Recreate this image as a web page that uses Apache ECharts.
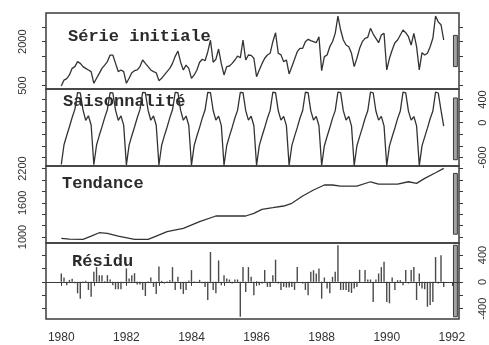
<!DOCTYPE html>
<html>
<head>
<meta charset="utf-8">
<script src="https://cdn.jsdelivr.net/npm/echarts@6/dist/echarts.min.js"></script>
<style>html,body{margin:0;padding:0;background:#fff;}#chart{width:489px;height:345px;}</style>
</head>
<body>
<div id="chart"></div>
<script>
// ---------- DATA (monthly, starting January 1980) ----------
const startYear = 1980;
const monthsPerYear = 12;

const rawSeries = [
  490, 690, 740, 865, 1090, 1150, 1320, 1260, 1150, 1090, 1035, 980,
  580, 750, 920, 1090, 1200, 1320, 1545, 1545, 1260, 980, 1035, 980,
  580, 750, 940, 1010, 1035, 1150, 1375, 1260, 1150, 1035, 980, 940,
  670, 750, 865, 980, 1090, 1260, 1500, 1680, 1300, 1035, 1200, 1090,
  750, 865, 1035, 1300, 1400, 1350, 1650, 2050, 1300, 1400, 1750, 1250,
  865, 1150, 1170, 1260, 1375, 1510, 1450, 2058, 1376, 1546, 1535, 1434,
  807, 1035, 1250, 1434, 1546, 1604, 2000, 2307, 1604, 1550, 1318, 1376,
  899, 1148, 1400, 1660, 1774, 1774, 2000, 2082, 2036, 2000, 1966, 2170,
  1011, 1489, 1546, 1830, 2000, 2286, 2876, 2399, 2058, 1887, 1830, 1604,
  1148, 1434, 1774, 2000, 2116, 2150, 2457, 2262, 2116, 1966, 2228, 2286,
  1035, 1434, 1717, 1966, 2058, 2228, 2399, 2307, 2170, 1887, 2286, 1830,
  1035, 1625, 1546, 1604, 1830, 2116, 2876, 2670, 2580, 2058
];

const seasonalSeries = [
  -720, -380, -220, -70, 90, 230, 520, 515, 220, 40, 120, -40,
  -725, -385, -222, -72, 88, 228, 520, 515, 218, 40, 118, -42,
  -728, -388, -225, -75, 86, 225, 522, 516, 215, 42, 116, -44,
  -730, -390, -228, -78, 84, 222, 522, 518, 212, 42, 115, -45,
  -732, -392, -230, -80, 82, 218, 524, 518, 210, 44, 114, -46,
  -734, -394, -232, -82, 80, 215, 524, 520, 208, 44, 112, -48,
  -735, -395, -234, -84, 78, 212, 525, 520, 205, 45, 110, -50,
  -736, -396, -236, -86, 76, 210, 525, 520, 204, 46, 110, -52,
  -737, -397, -238, -88, 74, 208, 526, 518, 203, 46, 108, -54,
  -738, -398, -240, -90, 72, 205, 526, 516, 202, 45, 108, -55,
  -739, -399, -242, -92, 70, 203, 527, 514, 200, 44, 106, -56,
  -740, -400, -244, -94, 68, 200, 528, 512, 215, -60
];

// trend read at these month indices
const trendMonthIndex = [0, 3, 8, 11, 14, 17, 21, 27, 32, 35, 39, 45, 51, 57, 63, 68, 71, 74, 78, 82, 85, 89, 93, 97, 100, 103, 109, 114, 117, 124, 128, 131, 134, 138, 141];
const trendValues     = [977, 962, 960, 1015, 1075, 1065, 1015, 960, 960, 1017, 1093, 1152, 1268, 1368, 1368, 1368, 1415, 1485, 1513, 1543, 1590, 1718, 1823, 1911, 1911, 1893, 1893, 1968, 1928, 1928, 1968, 1940, 2028, 2126, 2203];

const remainderSeries = [
  125, 65, -50, 30, 45, -20, -170, -250, 10, 15, -120, -220,
  150, 220, 100, 100, 10, 100, 35, -50, -110, -110, -110, -20,
  200, 50, 100, 130, -40, -40, -120, -210, 10, 65, -75, -180,
  230, 15, -25, 10, 25, 220, -120, 75, -110, -180, -120, 20,
  175, 10, -10, 30, -20, -75, -270, 445, -120, -170, 320, -50,
  100, 50, 35, -25, 35, 35, -520, 220, -150, 220, 75, -200,
  10, -50, -25, 175, -75, -75, 100, 330, -25, -120, -75, -85,
  -85, -75, -120, 220, 0, -25, -120, -200, 150, 175, 125, 200,
  -250, 65, -100, -170, 75, 150, 545, -120, -120, -120, -150, -165,
  -100, -75, 180, 0, 175, 35, 35, -300, 35, 125, 220, 300,
  -300, -320, 65, -120, 25, 25, -50, 175, -25, 175, 220, -270,
  125, -100, -110, -370, -345, -300, 370, -25, 395, -75
];

const panelTitles = ['Série initiale', 'Saisonnalité', 'Tendance', 'Résidu'];

const xTickYears  = [1980, 1981, 1982, 1983, 1984, 1985, 1986, 1987, 1988, 1989, 1990, 1991, 1992];
const xLabelYears = [1980, 1982, 1984, 1986, 1988, 1990, 1992];

const yTicksRaw = [500, 1000, 1500, 2000, 2500];
const yLabelsRaw = [500, 2000];
const yTicksSeasonal = [-600, -400, -200, 0, 200, 400];
const yLabelsSeasonal = [-600, 0, 400];
const yTicksTrend = [1000, 1200, 1400, 1600, 1800, 2000, 2200];
const yLabelsTrend = [1000, 1600, 2200];
const yTicksRemainder = [-400, -200, 0, 200, 400];
const yLabelsRemainder = [-400, 0, 400];

// ---------- BUILD ----------
const t = i => startYear + i / monthsPerYear;
const rawData = rawSeries.map((v, i) => [t(i), v]);
const seasonalData = seasonalSeries.map((v, i) => [t(i), v]);
const trendData = trendMonthIndex.map((m, k) => [t(m), trendValues[k]]);
const remainderData = remainderSeries.map((v, i) => [t(i), v]);

const X_MIN = 1979.53, X_MAX = 1992.22;
const grids = [
  { top: 13,  height: 76 },
  { top: 89,  height: 77 },
  { top: 166, height: 77 },
  { top: 243, height: 76 }
];
const yRanges = [
  [385, 2980],
  [-747, 581],
  [895, 2244],
  [-553, 579]
];
const tickSets = [yTicksRaw, yTicksSeasonal, yTicksTrend, yTicksRemainder];
const labelSets = [yLabelsRaw, yLabelsSeasonal, yLabelsTrend, yLabelsRemainder];
const labelOnRight = [false, true, false, true];

const textColor = '#333';
const frameColor = '#3c3c3c';
const plain = v => String(Math.round(v));

const gridOpts = grids.map(g => ({
  left: 46, right: 30, top: g.top, height: g.height,
  show: true, borderColor: frameColor, borderWidth: 1.5, backgroundColor: 'transparent'
}));

const xAxes = grids.map((g, k) => {
  const last = k === grids.length - 1;
  return {
    type: 'value', gridIndex: k, min: X_MIN, max: X_MAX,
    splitLine: { show: false },
    axisLine: { show: false },
    axisTick: { show: last, length: 4, customValues: xTickYears, lineStyle: { color: frameColor, width: 1 } },
    axisLabel: { show: last, customValues: xLabelYears, margin: 13, fontSize: 12,
                 fontFamily: 'Liberation Sans, Arial, sans-serif', color: textColor,
                 formatter: plain }
  };
});

const yAxes = [];
grids.forEach((g, k) => {
  ['left', 'right'].forEach(side => {
    const showLabel = (side === 'right') === labelOnRight[k];
    yAxes.push({
      type: 'value', gridIndex: k, position: side,
      min: yRanges[k][0], max: yRanges[k][1],
      splitLine: { show: false },
      axisLine: { show: false },
      axisTick: { show: true, length: 4, customValues: tickSets[k], lineStyle: { color: frameColor, width: 1 } },
      axisLabel: { show: showLabel, customValues: labelSets[k], rotate: 90, margin: side === 'left' ? 18 : 18,
                   fontSize: 11, fontFamily: 'Liberation Sans, Arial, sans-serif', color: textColor,
                   formatter: plain }
    });
  });
});

// range bars (same length in every panel = smallest data range)
const panelValues = [rawSeries, seasonalSeries, trendValues, remainderSeries];
const ranges = panelValues.map(a => [Math.min(...a), Math.max(...a)]);
const barLen = Math.min(...ranges.map(r => r[1] - r[0]));
const BAR_X0 = 1992.05, BAR_X1 = 1992.17;

function renderRangeBar(params, api) {
  const p0 = api.coord([api.value(0), api.value(3)]);
  const p1 = api.coord([api.value(1), api.value(2)]);
  return {
    type: 'rect',
    shape: { x: p0[0], y: p0[1], width: p1[0] - p0[0], height: p1[1] - p0[1] },
    style: { fill: '#a3a3a3', stroke: '#3a3a3a', lineWidth: 1 }
  };
}

const lineStyle = { color: '#333', width: 1.3 };
const series = [
  { type: 'line', xAxisIndex: 0, yAxisIndex: 0, data: rawData, showSymbol: false, lineStyle, z: 3 },
  { type: 'line', xAxisIndex: 1, yAxisIndex: 2, data: seasonalData, showSymbol: false, lineStyle, z: 3 },
  { type: 'line', xAxisIndex: 2, yAxisIndex: 4, data: trendData, showSymbol: false, lineStyle, z: 3 },
  { type: 'bar', xAxisIndex: 3, yAxisIndex: 6, data: remainderData, barWidth: 1.4,
    itemStyle: { color: '#4a4a4a' }, z: 3,
    markLine: { silent: true, symbol: 'none', label: { show: false },
                lineStyle: { color: frameColor, width: 1.2, type: 'solid' },
                data: [{ yAxis: 0 }] } }
];
ranges.forEach((r, k) => {
  const c = (r[0] + r[1]) / 2;
  series.push({
    type: 'custom', xAxisIndex: k, yAxisIndex: 2 * k,
    renderItem: renderRangeBar,
    encode: { x: [0, 1], y: [2, 3] },
    data: [[BAR_X0, BAR_X1, c - barLen / 2, c + barLen / 2]],
    z: 4
  });
});

const titlePos = [[68, 37], [63, 102], [62, 184], [72, 262]];
const graphics = panelTitles.map((txt, k) => ({
  type: 'text', x: titlePos[k][0], y: titlePos[k][1], z: 1,
  style: { text: txt, font: 'bold 17px "Liberation Mono", "Courier New", monospace',
           fill: '#2b2b2b', verticalAlign: 'middle', align: 'left' }
}));

const chart = echarts.init(document.getElementById('chart'), null, { renderer: 'canvas' });
chart.setOption({
  animation: false,
  backgroundColor: '#fff',
  grid: gridOpts,
  xAxis: xAxes,
  yAxis: yAxes,
  series,
  graphic: graphics
});
</script>
</body>
</html>
